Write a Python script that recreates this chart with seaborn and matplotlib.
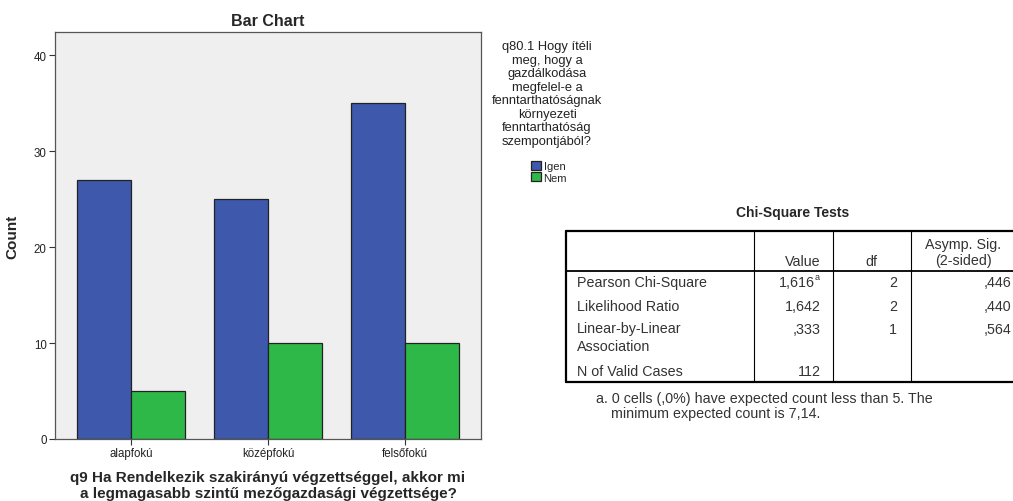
import matplotlib
matplotlib.use("Agg")
import matplotlib.pyplot as plt
import pandas as pd
import seaborn as sns

# data
categories = ["alapfokú", "középfokú", "felsőfokú"]
igen = [27, 25, 35]
nem = [5, 10, 10]
groups = ["Igen", "Nem"]

table_cols = ["Value", "df", "Asymp. Sig.\n(2-sided)"]
table_rows = ["Pearson Chi-Square", "Likelihood Ratio", "Linear-by-Linear\nAssociation", "N of Valid Cases"]
table_value = ["1,616", "1,642", ",333", "112"]
table_df = ["2", "2", "1", ""]
table_sig = [",446", ",440", ",564", ""]

df = pd.DataFrame({
    "edu": categories * 2,
    "resp": [groups[0]] * 3 + [groups[1]] * 3,
    "count": igen + nem,
})

sns.set_style("white")
plt.rcParams["font.family"] = ["Liberation Sans", "DejaVu Sans"]

W, H = 1013, 502
fig = plt.figure(figsize=(W / 100, H / 100), dpi=100)
ax = fig.add_axes([55 / W, 1 - 440 / H, 426 / W, 407 / H])
ax.set_facecolor("#efefef")

sns.barplot(data=df, x="edu", y="count", hue="resp", hue_order=groups,
            palette=["#3e58ac", "#2eb848"], width=0.79, edgecolor="#222222",
            linewidth=0.9, saturation=1, ax=ax)

ax.set_ylim(0, 42.4)
ax.set_xlim(-0.555, 2.555)
ax.set_yticks([0, 10, 20, 30, 40])
ax.tick_params(axis="both", direction="out", length=4.5, width=0.8, colors="#333333",
               labelsize=8.3, labelcolor="#222222", bottom=True, left=True, pad=1.5)
for s in ax.spines.values():
    s.set_color("#555555")
    s.set_linewidth(0.9)
ax.set_ylabel("Count", fontsize=11, fontweight="bold", labelpad=10)
ax.set_xlabel("q9 Ha Rendelkezik szakirányú végzettséggel, akkor mi\na legmagasabb szintű mezőgazdasági végzettsége?",
              fontsize=11, fontweight="bold", labelpad=8, linespacing=1.1)
ax.set_title("Bar Chart", fontsize=11.5, fontweight="bold", pad=5)

# legend
handles, labels = ax.get_legend_handles_labels()
ax.legend_.remove()
fig.legend(handles, labels, loc="upper left", bbox_to_anchor=(523 / W, 1 - 154 / H),
           frameon=False, fontsize=8, handlelength=0.9, handleheight=0.9,
           handletextpad=0.25, labelspacing=0.08, borderpad=0.2)
fig.text(547 / W, 1 - 41 / H,
         "q80.1 Hogy ítéli\nmeg, hogy a\ngazdálkodása\nmegfelel-e a\nfenntarthatóságnak\nkörnyezeti\nfenntarthatóság\nszempontjából?",
         ha="center", va="top", fontsize=9.3, linespacing=1.17, color="#222222")

# Chi-Square table
def fx(x):
    return x / W

def fy(y):
    return 1 - y / H

fig.text(fx(793), fy(213), "Chi-Square Tests", ha="center", va="center",
         fontsize=10, fontweight="bold")
left, right = 566, 1013
col_x = [754, 833, 911]
top, head_bot, bot = 232, 272, 383

def hline(y, x0, x1, lw):
    fig.add_artist(plt.Line2D([fx(x0), fx(x1)], [fy(y), fy(y)], color="black", lw=lw))

def vline(x, y0, y1, lw):
    fig.add_artist(plt.Line2D([fx(x), fx(x)], [fy(y0), fy(y1)], color="black", lw=lw))

hline(top, left, right, 1.6)
hline(head_bot, left, right, 1.3)
hline(bot, left, right, 1.6)
vline(left, top, bot, 1.6)
for cx in col_x:
    vline(cx, top, bot, 0.8)

tfs = 10.3
tc = "#333333"
fig.text(fx(821), fy(262), table_cols[0], ha="right", va="center", fontsize=tfs, color=tc)
fig.text(fx(871), fy(262), table_cols[1], ha="center", va="center", fontsize=tfs, color=tc)
fig.text(fx(963), fy(253), table_cols[2], ha="center", va="center", fontsize=tfs,
         color=tc, linespacing=1.25)

row_y = [283, 307, 330, 372]
for i, lab in enumerate(table_rows):
    vy = row_y[i]
    if "\n" in lab:
        fig.text(fx(577), fy(vy - 8), lab, ha="left", va="top", fontsize=tfs, color=tc,
                 linespacing=1.35)
    else:
        fig.text(fx(577), fy(vy), lab, ha="left", va="center", fontsize=tfs, color=tc)
    val = table_value[i]
    if i == 0:
        fig.text(fx(815), fy(vy), val, ha="right", va="center", fontsize=tfs, color=tc)
        fig.text(fx(815), fy(vy - 5), "a", ha="left", va="center", fontsize=6.5, color=tc)
    else:
        fig.text(fx(821), fy(vy), val, ha="right", va="center", fontsize=tfs, color=tc)
    fig.text(fx(897), fy(vy), table_df[i], ha="right", va="center", fontsize=tfs, color=tc)
    fig.text(fx(1011), fy(vy), table_sig[i], ha="right", va="center", fontsize=tfs, color=tc)

fig.text(fx(596), fy(399), "a. 0 cells (,0%) have expected count less than 5. The",
         ha="left", va="center", fontsize=tfs, color=tc)
fig.text(fx(611), fy(414), "minimum expected count is 7,14.",
         ha="left", va="center", fontsize=tfs, color=tc)

fig.savefig("out.png", dpi=100, facecolor="white")
